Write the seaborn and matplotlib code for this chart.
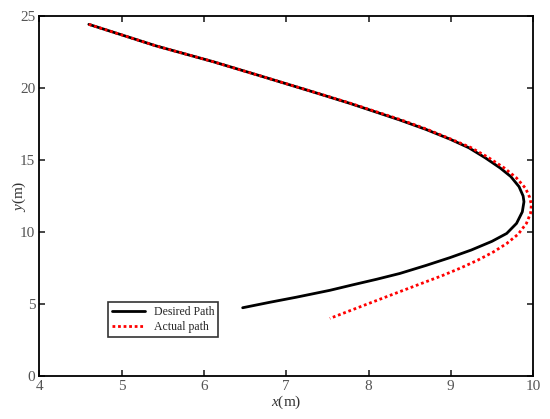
import matplotlib
matplotlib.use("Agg")
import matplotlib.pyplot as plt
import seaborn as sns
import pandas as pd

# ── Data ──────────────────────────────────────────────────────────────────────
desired_x = [4.60, 5.42, 6.11, 6.68, 7.29, 7.77, 8.38, 8.70, 8.99, 9.22,
             9.42, 9.60, 9.73, 9.83, 9.88, 9.89, 9.87, 9.80, 9.68, 9.50,
             9.25, 8.99, 8.70, 8.38, 8.10, 7.80, 7.53, 7.12, 6.80, 6.47]
desired_y = [24.42, 22.92, 21.83, 20.85, 19.79, 18.94, 17.78, 17.12, 16.45, 15.85,
             15.15, 14.45, 13.85, 13.15, 12.50, 12.10, 11.40, 10.60, 9.90, 9.35,
             8.75, 8.22, 7.68, 7.12, 6.72, 6.32, 5.95, 5.47, 5.12, 4.74]

actual_x = [4.60, 5.42, 6.11, 6.68, 7.29, 7.77, 8.38, 8.70, 8.99, 9.24,
            9.45, 9.65, 9.80, 9.91, 9.96, 9.98, 9.97, 9.92, 9.82, 9.68,
            9.52, 9.33, 9.12, 8.90, 8.40, 7.95, 7.53]
actual_y = [24.42, 22.92, 21.83, 20.85, 19.80, 18.96, 17.82, 17.16, 16.48, 15.88,
            15.20, 14.45, 13.75, 13.03, 12.40, 11.88, 11.30, 10.60, 9.85, 9.20,
            8.62, 8.05, 7.50, 6.98, 5.90, 4.92, 4.00]

labels = ["Desired Path", "Actual path"]

# ── Style ─────────────────────────────────────────────────────────────────────
sns.set_style("ticks")
plt.rcParams["font.family"] = ["Liberation Serif", "DejaVu Serif"]
plt.rcParams["mathtext.fontset"] = "custom"
plt.rcParams["mathtext.it"] = "Liberation Serif:italic"
plt.rcParams["mathtext.rm"] = "Liberation Serif"

fig = plt.figure(figsize=(5.5, 4.19), dpi=100)
ax = fig.add_axes([0.0718, 0.1026, 0.8973, 0.8592])

df_des = pd.DataFrame({"x": desired_x, "y": desired_y})
df_act = pd.DataFrame({"x": actual_x, "y": actual_y})

sns.lineplot(data=df_des, x="x", y="y", sort=False, estimator=None, ax=ax,
             color="black", linewidth=2.0, label=labels[0])
sns.lineplot(data=df_act, x="x", y="y", sort=False, estimator=None, ax=ax,
             color="red", linewidth=2.0, linestyle=(0, (1, 1)), label=labels[1])

ax.set_xlim(4, 10)
ax.set_ylim(0, 25)
ax.set_xticks(range(4, 11))
ax.set_yticks(range(0, 26, 5))
ax.set_xlabel("$x$(m)", fontsize=11, color="#333333", labelpad=0)
ax.set_ylabel("$y$(m)", fontsize=11, color="#333333", labelpad=-6)
ax.tick_params(direction="in", top=True, right=True, length=4, width=1.2,
               labelsize=11, labelcolor="#555555", pad=3)
for s in ax.spines.values():
    s.set_linewidth(1.3)
    s.set_color("black")

leg = ax.legend(loc="upper left", bbox_to_anchor=(0.139, 0.205), fontsize=8.5,
                frameon=True, fancybox=False, handlelength=2.8, borderpad=0.35,
                labelspacing=0.25, handletextpad=0.7, borderaxespad=0)
leg.get_frame().set_edgecolor("black")
leg.get_frame().set_linewidth(1.2)

fig.savefig("out.png", dpi=100)
